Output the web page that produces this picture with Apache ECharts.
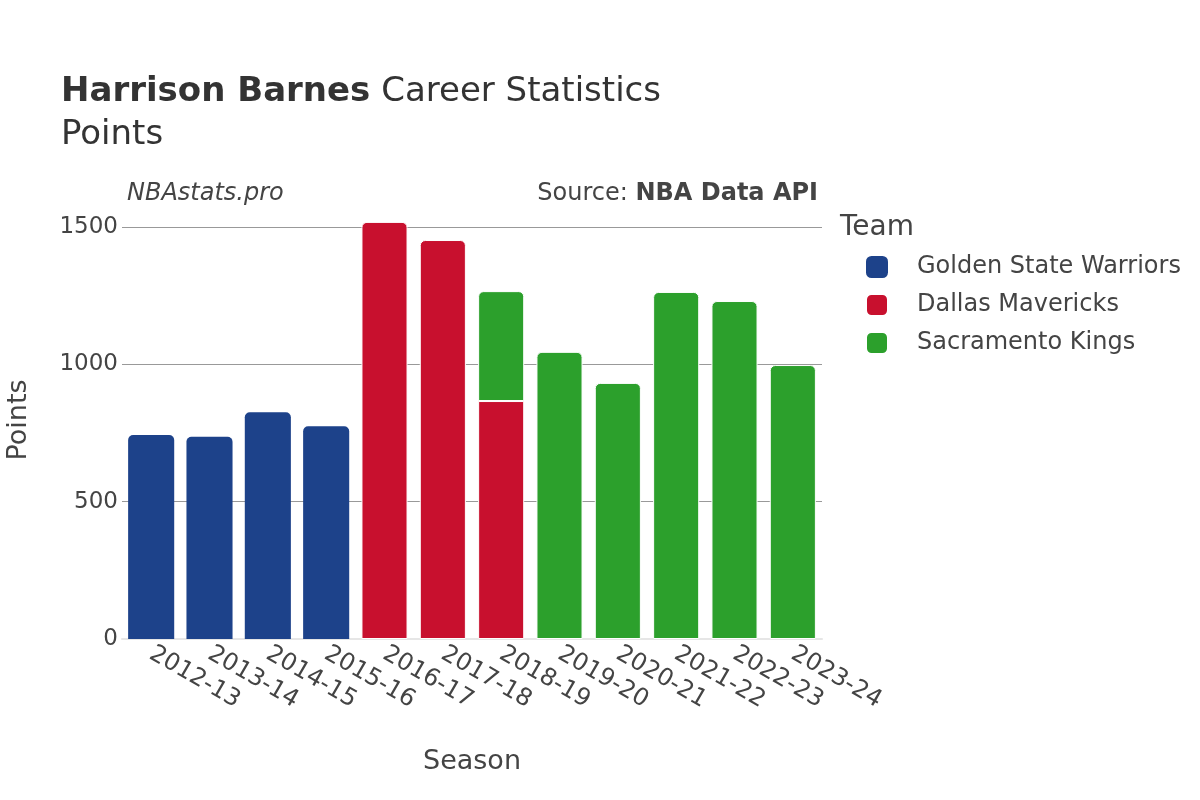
<!DOCTYPE html>
<html>
<head>
<meta charset="utf-8">
<script src="https://cdn.jsdelivr.net/npm/echarts@6/dist/echarts.min.js"></script>
<style>
  html, body { margin: 0; padding: 0; background: #fff; }
  #chart { width: 1200px; height: 800px; }
</style>
</head>
<body>
<div id="chart"></div>
<script>
const seasons = ['2012-13', '2013-14', '2014-15', '2015-16', '2016-17', '2017-18',
  '2018-19', '2019-20', '2020-21', '2021-22', '2022-23', '2023-24'];
const teams = ['Golden State Warriors', 'Dallas Mavericks', 'Sacramento Kings'];
const teamColors = ['#1d428a', '#c8102e', '#2ca02c'];
const warriorsPts = [742, 736, 825, 774, null, null, null, null, null, null, null, null];
const mavericksPts = [null, null, null, null, 1518, 1452, 866, null, null, null, null, null];
const kingsPts = [null, null, null, null, null, null, 400, 1045, 932, 1263, 1230, 997];
const yTicks = [0, 500, 1000, 1500];

const teamPts = [warriorsPts, mavericksPts, kingsPts];
const font = 'DejaVu Sans';

// top segment of each stack gets the rounded corners
function buildData(k) {
  return teamPts[k].map(function (v, i) {
    if (v == null) return null;
    let onTop = true;
    for (let j = k + 1; j < teamPts.length; j++) {
      if (teamPts[j][i] != null) onTop = false;
    }
    return { value: v, itemStyle: { borderRadius: onTop ? [5, 5, 0, 0] : 0 } };
  });
}

const series = teams.map(function (name, k) {
  return {
    name: name,
    type: 'bar',
    stack: 'pts',
    barCategoryGap: '21%',
    itemStyle: { color: teamColors[k], borderColor: '#fff', borderWidth: k > 0 ? 1 : 0 },
    data: buildData(k)
  };
});

const chart = echarts.init(document.getElementById('chart'));
chart.setOption({
  animation: false,
  textStyle: { fontFamily: font },
  title: [
    {
      left: 56, top: 66,
      text: '{b|Harrison Barnes} Career Statistics\nPoints',
      textStyle: {
        fontFamily: font, fontSize: 34, fontWeight: 'normal', color: '#333', lineHeight: 43,
        rich: { b: { fontFamily: font, fontSize: 34, fontWeight: 'bold', color: '#333', lineHeight: 43 } }
      }
    },
    {
      left: 122, top: 177, text: 'NBAstats.pro',
      textStyle: { fontFamily: font, fontSize: 24, fontStyle: 'italic', fontWeight: 'normal', color: '#444' }
    },
    {
      right: 377, top: 177,
      text: 'Source: {b|NBA Data API}',
      textStyle: {
        fontFamily: font, fontSize: 24, fontWeight: 'normal', color: '#444',
        rich: { b: { fontFamily: font, fontSize: 24, fontWeight: 'bold', color: '#444' } }
      }
    },
    {
      left: 835, top: 209, text: 'Team',
      textStyle: { fontFamily: font, fontSize: 28, fontWeight: 'normal', color: '#444' }
    }
  ],
  legend: {
    orient: 'vertical',
    left: 860, top: 250,
    icon: 'roundRect',
    itemWidth: 22, itemHeight: 22, itemGap: 14,
    textStyle: { fontFamily: font, fontSize: 24, color: '#444', padding: [0, 0, 0, 24] },
    data: teams
  },
  grid: { left: 122, right: 378, top: 201, bottom: 161, outerBoundsMode: 'none' },
  xAxis: {
    type: 'category',
    data: seasons,
    name: 'Season',
    nameLocation: 'middle',
    nameGap: 109,
    nameTextStyle: { fontFamily: font, fontSize: 27, color: '#444' },
    axisLine: { lineStyle: { color: '#e6e6e6', width: 2 } },
    axisTick: { show: false },
    axisLabel: { rotate: -30, fontFamily: font, fontSize: 24, color: '#444', margin: 13, interval: 0 }
  },
  yAxis: {
    type: 'value',
    min: yTicks[0],
    max: 1594,
    interval: yTicks[1] - yTicks[0],
    name: 'Points',
    nameLocation: 'middle',
    nameGap: 90,
    nameRotate: 90,
    nameTextStyle: { fontFamily: font, fontSize: 27, color: '#444' },
    axisLine: { show: false },
    axisTick: { show: false },
    axisLabel: {
      fontFamily: font, fontSize: 23, color: '#444', margin: 4, showMaxLabel: false,
      formatter: function (v) { return String(v); }
    },
    splitLine: { showMaxLine: false, showMinLine: false, lineStyle: { color: '#999', width: 1 } }
  },
  series: series
});
</script>
</body>
</html>
